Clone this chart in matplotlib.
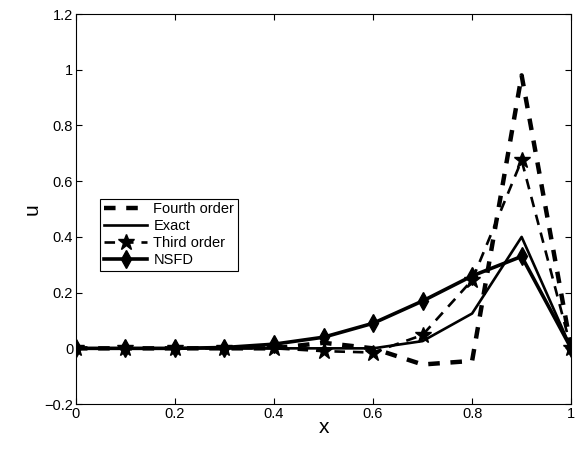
import matplotlib.pyplot as plt
import numpy as np

plt.rcParams['font.family'] = ['Liberation Sans', 'DejaVu Sans']

x = [0, 0.1, 0.2, 0.3, 0.4, 0.5, 0.6, 0.7, 0.8, 0.9, 1.0]
fourth = [0, 0, 0, 0, 0, 0.02, 0.0, -0.058, -0.045, 0.98, 0]
exact = [0, 0, 0, 0, 0, 0, 0, 0.026, 0.125, 0.40, 0]
third = [0, 0, 0, 0, 0, -0.01, -0.015, 0.048, 0.245, 0.675, 0]
nsfd = [0, 0, 0, 0.003, 0.015, 0.04, 0.09, 0.17, 0.26, 0.33, 0]

fig = plt.figure(figsize=(5.84, 4.54), dpi=100)
ax = fig.add_axes([0.130, 0.110, 0.848, 0.859])

ax.plot(x, fourth, 'k--', linewidth=3.2, dashes=(2.6, 2.4), label='Fourth order')
ax.plot(x, exact, 'k-', linewidth=1.9, label='Exact')
ax.plot(x, third, 'k--', linewidth=1.9, dashes=(4, 3), marker='*', markersize=12, label='Third order')
ax.plot(x, nsfd, 'k-', linewidth=2.6, marker='d', markersize=9, label='NSFD')

ax.set_xlim(0, 1)
ax.set_ylim(-0.2, 1.2)
ax.set_xticks(np.arange(0, 1.01, 0.2))
ax.set_xticklabels(['0', '0.2', '0.4', '0.6', '0.8', '1'])
ax.set_yticks(np.arange(-0.2, 1.21, 0.2))
ax.set_yticklabels(['\u22120.2', '0', '0.2', '0.4', '0.6', '0.8', '1', '1.2'])
ax.tick_params(direction='in', top=True, right=True, labelsize=10.5, length=4, pad=2)
ax.set_xlabel('x', fontsize=15, labelpad=-2)
ax.set_ylabel('u', fontsize=15, labelpad=2)

leg = ax.legend(loc='upper left', bbox_to_anchor=(0.034, 0.545), fontsize=10.5,
                fancybox=False, edgecolor='black', framealpha=1,
                handlelength=3.0, borderpad=0.25, labelspacing=0.2, handletextpad=0.4)
leg.get_frame().set_linewidth(0.8)

fig.savefig('out.png', dpi=100)
